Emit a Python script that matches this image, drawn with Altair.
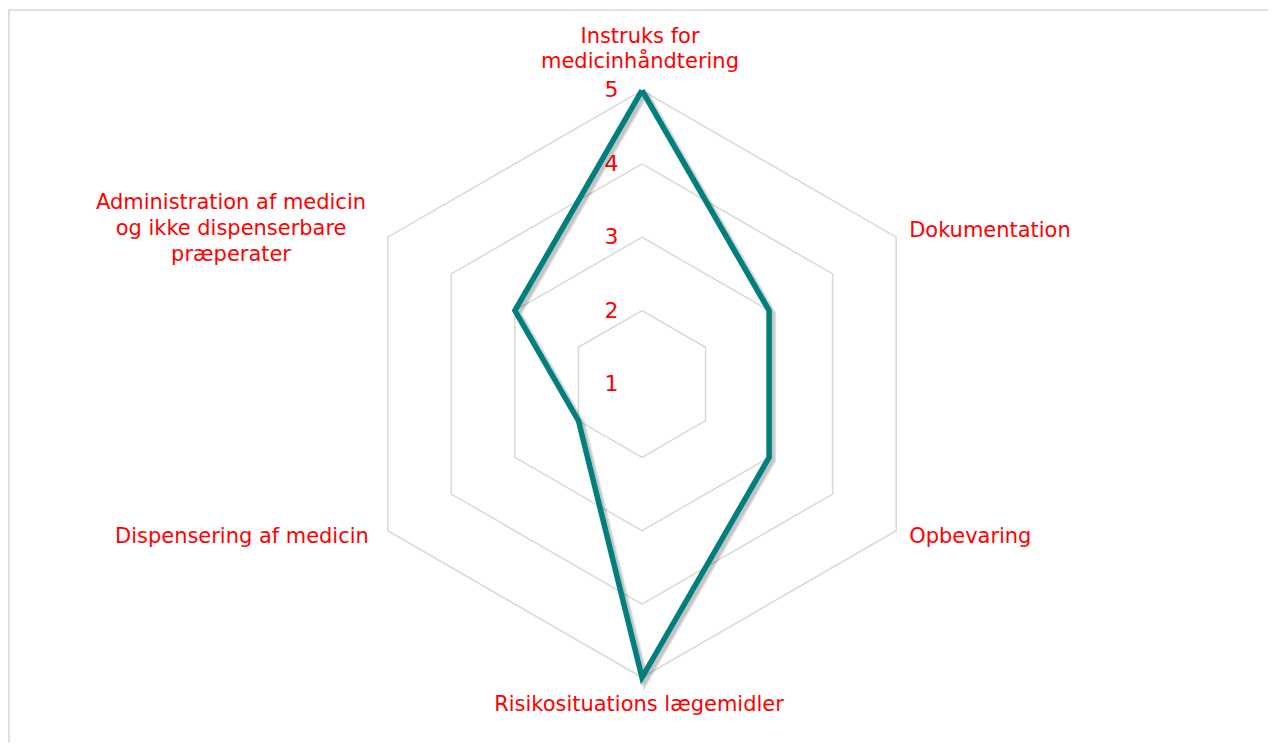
import altair as alt
import pandas as pd

# ---------------- data ----------------
categories = [
    "Instruks for medicinhåndtering",
    "Dokumentation",
    "Opbevaring",
    "Risikosituations lægemidler",
    "Dispensering af medicin",
    "Administration af medicin og ikke dispenserbare præperater",
]
category_labels = [
    "Instruks for\nmedicinhåndtering",
    "Dokumentation",
    "Opbevaring",
    "Risikosituations lægemidler",
    "Dispensering af medicin",
    "Administration af medicin\nog ikke dispenserbare\npræperater",
]
values = [5, 3, 3, 5, 2, 3]
tick_values = [1, 2, 3, 4, 5]
grid_levels = [2, 3, 4, 5]

# ---------------- layout ----------------
R_MIN, R_MAX = 1, 5
W, H = 1262, 735
CX, CY = 635, 376          # centre of the radar in chart pixels
PX = 73.5                   # pixels per value unit
xdom = [-CX / PX, (W - CX) / PX]
ydom = [-(H - CY) / PX, CY / PX]
FONT = "DejaVu Sans"
RED = "#ff0000"
N = len(categories)

xs = alt.Scale(domain=xdom, nice=False, zero=False)
ys = alt.Scale(domain=ydom, nice=False, zero=False)
X = alt.X("x:Q", scale=xs, axis=None)
Y = alt.Y("y:Q", scale=ys, axis=None)


def polar(chart):
    return chart.transform_calculate(
        ang=f"datum.idx * 2 * PI / {N}",
        r=f"datum.value - {R_MIN}",
    ).transform_calculate(
        x="datum.r * sin(datum.ang)",
        y="datum.r * cos(datum.ang)",
    )


# series polygon (closed)
series_df = pd.DataFrame({
    "category": categories + [categories[0]],
    "value": values + [values[0]],
    "idx": list(range(N)) + [N],
})

# grid hexagons
grid_rows = []
for lv in grid_levels:
    for i in range(N + 1):
        grid_rows.append({"level": lv, "value": lv, "idx": i})
grid_df = pd.DataFrame(grid_rows)

# category labels at outer ring
label_df = pd.DataFrame({
    "category": categories,
    "label": category_labels,
    "idx": list(range(N)),
    "value": [R_MAX] * N,
})

tick_df = pd.DataFrame({
    "tick": [str(t) for t in tick_values],
    "value": tick_values,
    "idx": [0] * len(tick_values),
})

grid = polar(alt.Chart(grid_df)).mark_line(
    color="#d9d9d9", strokeWidth=1.5
).encode(x=X, y=Y, detail="level:N", order="idx:Q")

shadow = polar(alt.Chart(series_df)).mark_line(
    color="#000000", opacity=0.12, strokeWidth=8, xOffset=3, yOffset=3,
    strokeJoin="miter"
).encode(x=X, y=Y, order="idx:Q")

shadow2 = polar(alt.Chart(series_df)).mark_line(
    color="#000000", opacity=0.12, strokeWidth=5, xOffset=3, yOffset=3,
    strokeJoin="miter"
).encode(x=X, y=Y, order="idx:Q")

line = polar(alt.Chart(series_df)).mark_line(
    color="#007f7f", strokeWidth=5.5, strokeJoin="miter"
).encode(x=X, y=Y, order="idx:Q")

ticks = polar(alt.Chart(tick_df)).mark_text(
    font=FONT, fontSize=22, color=RED, align="center", baseline="middle",
    dx=-30.5, dy=0
).encode(x=X, y=Y, text="tick:N")

label_specs = [
    # idx, align, dx, dy
    (0, "center", -2, -48),
    (1, "left", 13, 0),
    (2, "left", 13, 12),
    (3, "center", -3, 33.5),
    (4, "right", -19, 12),
    (5, "center", -157, -28),
]
label_layers = []
for idx, align, dx, dy in label_specs:
    label_layers.append(
        polar(alt.Chart(label_df).transform_filter(f"datum.idx == {idx}")).mark_text(
            font=FONT, fontSize=21, color=RED, align=align, baseline="alphabetic",
            dx=dx, dy=dy, lineBreak="\n", lineHeight=26
        ).encode(x=X, y=Y, text="label:N")
    )

border_top = alt.Chart(pd.DataFrame({"a": [0]})).mark_rule(
    color="#e0e0e0", strokeWidth=2
).encode(x=alt.value(0), x2=alt.value(W), y=alt.value(1.5))
border_left = alt.Chart(pd.DataFrame({"a": [0]})).mark_rule(
    color="#e0e0e0", strokeWidth=2
).encode(x=alt.value(1), y=alt.value(1.5), y2=alt.value(H))

chart = alt.layer(
    border_top, border_left, grid, ticks, shadow, shadow2, line, *label_layers
).properties(
    width=W, height=H, padding=0,
    autosize=alt.AutoSizeParams(type="none"),
).configure_view(stroke=None)

chart.save("out.html", embed_options={"renderer": "svg", "actions": False})
